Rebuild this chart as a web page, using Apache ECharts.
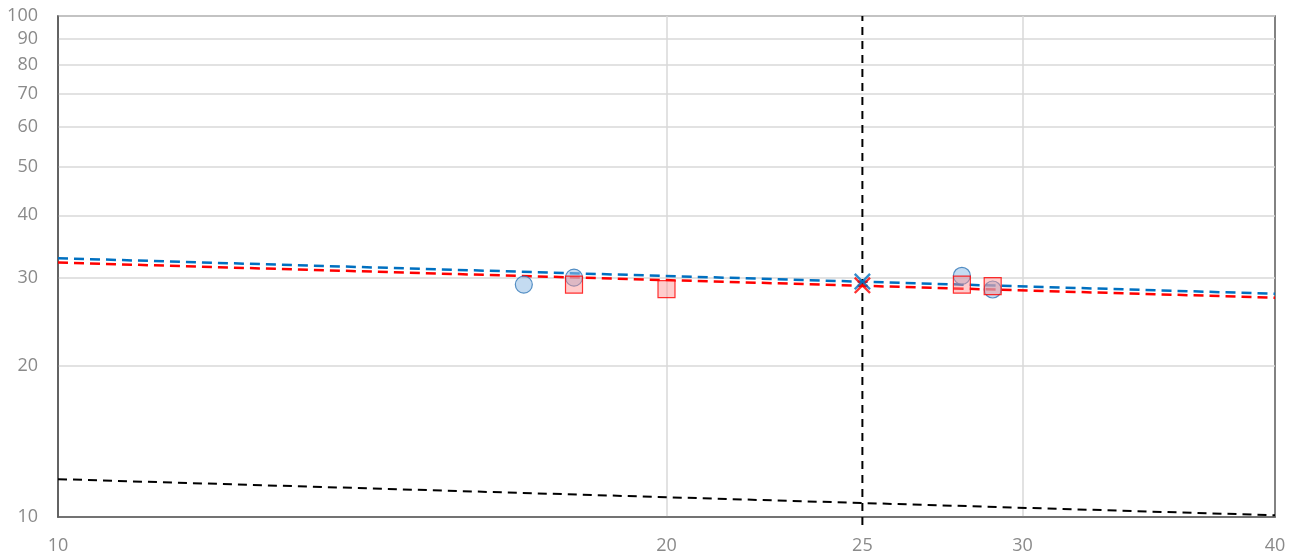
<!DOCTYPE html>
<html>
<head>
<meta charset="utf-8">
<script src="https://cdn.jsdelivr.net/npm/echarts@6/dist/echarts.min.js"></script>
<style>
  html, body { margin: 0; padding: 0; background: #fff; }
  #main { width: 1294px; height: 559px; }
</style>
</head>
<body>
<div id="main"></div>
<script>
// x / y tick labels (log axes)
var xTicks = [10, 20, 25, 30, 40];
var yTicks = [10, 20, 30, 40, 50, 60, 70, 80, 90, 100];

// measured points
var blueX = [17, 18, 28, 29];
var blueY = [29.1, 30.05, 30.3, 28.45];
var redX = [18, 20, 28, 29];
var redY = [29.1, 28.5, 29.1, 28.9];

// fitted lines (end points at x=10 and x=40)
var fitX = [10, 40];
var blueFit = [32.85, 27.9];
var redFit = [32.2, 27.4];
var blackFit = [11.9, 10.08];

// predicted at x=25
var predX = 25;
var bluePred = 29.5;
var redPred = 29.0;

// vertical reference line
var refX = [25, 25];
var refY = [9.64, 100];

function zip(xs, ys) {
    return xs.map(function (x, i) { return [x, ys[i]]; });
}

var crossPath = 'path://M0,2L2,0L10,8L18,0L20,2L12,10L20,18L18,20L10,12L2,20L0,18L8,10Z';
var labelStyle = { color: '#8a8a8a', fontSize: 18, fontFamily: 'Open Sans' };

var chart = echarts.init(document.getElementById('main'));
chart.setOption({
    animation: false,
    grid: {
        left: 58, right: 19, top: 16, bottom: 42,
        show: true, borderColor: '#595959', borderWidth: 1.5
    },
    xAxis: {
        type: 'log', logBase: 10, min: 10, max: 40,
        axisLine: { show: true, lineStyle: { color: '#595959', width: 1.5 } },
        axisTick: { show: false, customValues: [20, 30] },
        axisLabel: Object.assign({ customValues: xTicks, margin: 20 }, labelStyle),
        splitLine: { show: true, lineStyle: { color: '#d9d9d9', width: 1.5 } }
    },
    yAxis: {
        type: 'log', logBase: 10, min: 10, max: 100,
        axisLine: { show: true, lineStyle: { color: '#595959', width: 1.5 } },
        axisTick: { show: false, customValues: yTicks },
        axisLabel: Object.assign({ customValues: yTicks, margin: 20, padding: [2, 0, 0, 0] }, labelStyle),
        splitLine: { show: true, lineStyle: { color: '#d9d9d9', width: 1.5 } }
    },
    series: [
        {
            type: 'line', data: zip(refX, refY), symbol: 'none', clip: false,
            lineStyle: { color: '#000', width: 2, type: [8, 6] }, z: 1
        },
        {
            type: 'line', data: zip(fitX, blackFit), symbol: 'none',
            lineStyle: { color: '#000', width: 2, type: [9, 6] }
        },
        {
            type: 'line', data: zip(fitX, redFit), symbol: 'none',
            lineStyle: { color: '#ff0000', width: 2.5, type: [10, 6] }
        },
        {
            type: 'line', data: zip(fitX, blueFit), symbol: 'none',
            lineStyle: { color: '#0070c0', width: 2.5, type: [10, 6] }
        },
        {
            type: 'scatter', data: zip(blueX, blueY), symbol: 'circle', symbolSize: 17,
            itemStyle: { color: 'rgba(150,190,230,0.7)', borderColor: '#2e75b6', borderWidth: 1.2 }, z: 3
        },
        {
            type: 'scatter', data: zip(redX, redY), symbol: 'rect', symbolSize: 17,
            itemStyle: { color: 'rgba(255,140,140,0.55)', borderColor: '#ff0000', borderWidth: 1.2 }, z: 4
        },
        {
            type: 'scatter', data: [[predX, redPred]], symbol: crossPath, symbolSize: 17,
            itemStyle: { color: '#ff0000' }, z: 5
        },
        {
            type: 'scatter', data: [[predX, bluePred]], symbol: crossPath, symbolSize: 17,
            itemStyle: { color: '#0070c0' }, z: 6
        }
    ]
});
</script>
</body>
</html>
